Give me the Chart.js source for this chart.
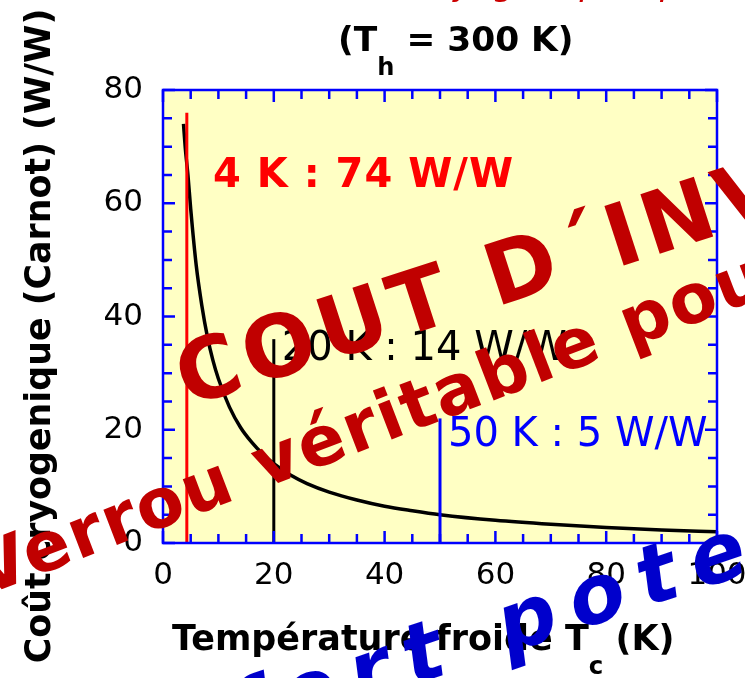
<!DOCTYPE html>
<html>
<head>
<meta charset="utf-8">
<script src="https://cdn.jsdelivr.net/npm/chart.js@4.4.0/dist/chart.umd.min.js"></script>
<style>
  html, body { margin: 0; padding: 0; background: #fff; }
  canvas { display: block; }
</style>
</head>
<body>
<canvas id="carnotChart" width="745" height="678"></canvas>
<script>
// Coût de Carnot (W/W) en fonction de la température froide, Th = 300 K
const coldTemps = [3.7, 4, 4.5, 5, 6, 7, 8, 9, 10, 12, 14, 16, 18, 20, 23, 26, 30, 35, 40, 45, 50, 60, 70, 80, 90, 100];
const carnotCost = [74, 70, 65, 59, 49, 42, 36.5, 32.3, 29, 24, 20.4, 17.8, 15.7, 14, 12, 10.5, 9, 7.6, 6.5, 5.7, 5, 4, 3.3, 2.75, 2.3, 2];

// vertical markers (temperature, top of the line)
const markerTemps = [4.3, 20, 50];
const markerTops = [76, 36, 22];
const markerColors = ['#ff0000', '#000000', '#0000ff'];
const markerLabels = ['4 K : 74 W/W', '20 K : 14 W/W', '50 K : 5 W/W'];

const xTickLabels = [0, 20, 40, 60, 80, 100];
const yTickLabels = [0, 20, 40, 60, 80];

const FONT = '"DejaVu Sans", sans-serif';
const DARK_RED = '#c00000';
const BLUE = '#0000cc';

function fitSize(ctx, text, weight, style, target) {
  ctx.font = style + ' ' + weight + ' 100px ' + FONT;
  return 100 * target / ctx.measureText(text).width;
}

// text made of pieces, some of them subscript
function drawPieces(ctx, pieces, x, y) {
  let cx = x;
  pieces.forEach(p => {
    ctx.font = p.font;
    ctx.fillText(p.t, cx, y + (p.dy || 0));
    cx += ctx.measureText(p.t).width;
  });
}

// big rotated slide text, placed so that letter number idx sits on (ax, ay)
function drawSlanted(ctx, text, idx, ax, ay, angle, font, color, spacing) {
  ctx.save();
  ctx.font = font;
  ctx.letterSpacing = spacing + 'px';
  const pre = ctx.measureText(text.slice(0, idx)).width;
  ctx.translate(ax, ay);
  ctx.rotate(angle * Math.PI / 180);
  ctx.fillStyle = color;
  ctx.textAlign = 'left';
  ctx.textBaseline = 'alphabetic';
  ctx.fillText(text, -pre, 0);
  ctx.restore();
}

const plotFrame = {
  id: 'plotFrame',
  beforeDraw(chart) {
    const { ctx, chartArea: a } = chart;
    ctx.save();
    ctx.fillStyle = '#ffffc4';
    ctx.fillRect(a.left, a.top, a.right - a.left, a.bottom - a.top);
    ctx.restore();
  },
  afterDatasetsDraw(chart) {
    const { ctx, chartArea: a, scales: { x, y } } = chart;
    ctx.save();
    ctx.strokeStyle = '#0000ff';
    ctx.lineWidth = 2.5;
    ctx.beginPath();
    x.ticks.forEach(t => {
      const px = x.getPixelForValue(t.value);
      const len = t.value % 20 === 0 ? 12 : 9;
      ctx.moveTo(px, a.bottom); ctx.lineTo(px, a.bottom - len);
      ctx.moveTo(px, a.top); ctx.lineTo(px, a.top + len);
    });
    y.ticks.forEach(t => {
      const py = y.getPixelForValue(t.value);
      const len = t.value % 20 === 0 ? 12 : 9;
      ctx.moveTo(a.left, py); ctx.lineTo(a.left + len, py);
      ctx.moveTo(a.right, py); ctx.lineTo(a.right - len, py);
    });
    ctx.stroke();
    ctx.strokeRect(a.left, a.top, a.right - a.left, a.bottom - a.top);
    ctx.restore();
  }
};

const slideText = {
  id: 'slideText',
  afterDraw(chart) {
    const { ctx, scales: { x } } = chart;
    ctx.save();
    ctx.textBaseline = 'alphabetic';
    ctx.textAlign = 'left';

    // red italic heading cut off by the top edge
    ctx.fillStyle = '#cc0000';
    ctx.font = 'italic 34px ' + FONT;
    ctx.fillText('Coût cryogénique spécifique', 330, -5);

    // title (Th = 300 K)
    ctx.fillStyle = '#000';
    let s = fitSize(ctx, '(T h = 300 K)', 'bold', 'normal', 255);
    const title = [
      { t: '(T', font: 'bold ' + s + 'px ' + FONT },
      { t: 'h', font: 'bold ' + (s * 0.7) + 'px ' + FONT, dy: 24 },
      { t: ' = 300 K)', font: 'bold ' + s + 'px ' + FONT }
    ];
    drawPieces(ctx, title, 338, 51);

    // x axis title
    s = fitSize(ctx, 'Température froide T c (K)', 'bold', 'normal', 521);
    const xt = [
      { t: 'Température froide T', font: 'bold ' + s + 'px ' + FONT },
      { t: 'c', font: 'bold ' + (s * 0.7) + 'px ' + FONT, dy: 24 },
      { t: ' (K)', font: 'bold ' + s + 'px ' + FONT }
    ];
    drawPieces(ctx, xt, 172, 650);

    // y axis title
    ctx.save();
    ctx.translate(50, 336);
    ctx.rotate(-Math.PI / 2);
    s = fitSize(ctx, 'Coût cryogenique (Carnot) (W/W)', 'bold', 'normal', 655);
    ctx.font = 'bold ' + s + 'px ' + FONT;
    ctx.textAlign = 'center';
    ctx.fillText('Coût cryogenique (Carnot) (W/W)', 0, 0);
    ctx.restore();

    // marker labels
    ctx.fillStyle = '#ff0000';
    ctx.font = 'bold 40px ' + FONT;
    ctx.letterSpacing = '1px';
    ctx.fillText(markerLabels[0], 213, 187);
    ctx.letterSpacing = '0px';
    ctx.fillStyle = '#000';
    ctx.font = '40px ' + FONT;
    ctx.fillText(markerLabels[1], x.getPixelForValue(markerTemps[1]) + 8, 360);
    ctx.fillStyle = '#0000ff';
    ctx.fillText(markerLabels[2], x.getPixelForValue(markerTemps[2]) + 8, 446);

    // big slide overlays
    drawSlanted(ctx, 'COUT D´INVESTISSEMENT', 5, 496, 307, -18, 'bold 86px ' + FONT, DARK_RED, 6);
    drawSlanted(ctx, 'Verrou véritable pour', 0, -16, 596, -21, 'bold 69px ' + FONT, DARK_RED, 2);
    drawSlanted(ctx, 'Un fort potentiel', 9, 578, 630, -18.5, 'italic bold 82px ' + FONT, BLUE, 16);
    ctx.restore();
  }
};

const curveData = coldTemps.map((t, i) => ({ x: t, y: carnotCost[i] }));
const markerSets = markerTemps.map((t, i) => ({
  data: [{ x: t, y: 0 }, { x: t, y: markerTops[i] }],
  borderColor: markerColors[i],
  borderWidth: 3,
  pointRadius: 0
}));

const tickFont = { family: FONT, size: 31 };

new Chart(document.getElementById('carnotChart').getContext('2d'), {
  type: 'line',
  data: {
    datasets: [...markerSets, {
      data: curveData,
      borderColor: '#000',
      borderWidth: 3.5,
      pointRadius: 0,
      cubicInterpolationMode: 'monotone'
    }]
  },
  options: {
    responsive: false,
    animation: false,
    layout: { padding: { top: 90, right: 28, left: 0, bottom: 0 } },
    plugins: { legend: { display: false }, tooltip: { enabled: false } },
    scales: {
      x: {
        type: 'linear', min: 0, max: 100,
        grid: { display: false, drawTicks: false },
        border: { display: false },
        ticks: {
          stepSize: 5, autoSkip: false, maxRotation: 0, padding: 14,
          color: '#000', font: tickFont,
          callback: v => xTickLabels.includes(v) ? v : ''
        },
        afterFit(scale) { scale.height = 135; scale.paddingLeft = 0; scale.paddingRight = 0; }
      },
      y: {
        min: 0, max: 80,
        grid: { display: false, drawTicks: false },
        border: { display: false },
        ticks: {
          stepSize: 5, autoSkip: false, padding: 20,
          color: '#000', font: tickFont,
          callback: v => yTickLabels.includes(v) ? v : ''
        },
        afterFit(scale) { scale.width = 163; scale.paddingTop = 0; scale.paddingBottom = 0; }
      }
    }
  },
  plugins: [plotFrame, slideText]
});
</script>
</body>
</html>
